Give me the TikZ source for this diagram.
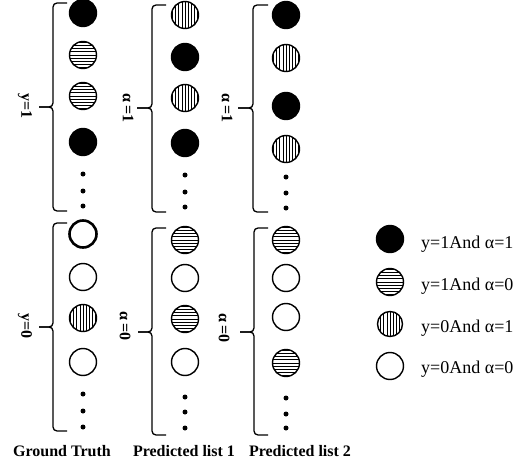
\documentclass[tikz,border=0pt]{standalone}
\usepackage{fontspec}
\setmainfont{Liberation Serif}
\begin{document}
\begin{tikzpicture}[x=1pt,y=-1pt,
  ball/.style={circle, draw=black, line width=1.4pt, minimum size=27pt, inner sep=0pt},
  cblk/.style={ball, fill=black},
  cwht/.style={ball},
  chor/.style={ball, path picture={\foreach \k in {-4,...,4} \draw[line width=0.7pt] ([yshift=\k*3.2pt]path picture bounding box.west) -- ([yshift=\k*3.2pt]path picture bounding box.east);}},
  cver/.style={ball, path picture={\foreach \k in {-4,...,4} \draw[line width=0.7pt] ([xshift=\k*3.1pt]path picture bounding box.north) -- ([xshift=\k*3.1pt]path picture bounding box.south);}},
  sdot/.style={circle, fill=black, minimum size=5pt, inner sep=0pt},
  bline/.style={line width=1.3pt, rounded corners=4pt},
  sidelab/.style={rotate=-90, font=\fontsize{16}{19}\selectfont\bfseries, inner sep=0pt},
  title/.style={font=\fontsize{16}{19}\selectfont\bfseries, inner sep=0pt},
  legtext/.style={anchor=west, font=\fontsize{18}{21}\selectfont, inner sep=0pt}]
\useasboundingbox (0,0) rectangle (515,466);

% ---------- column 1: Ground Truth ----------
\node[cblk] (c1a) at (83,13) {};
\node[chor] (c1b) at (83,55) {};
\node[chor] (c1c) at (83,96) {};
\node[cblk] (c1d) at (83,142) {};
\node[sdot] (d1a) at (83,174) {};
\node[sdot] (d1b) at (83,191) {};
\node[sdot] (d1c) at (83,206) {};
\node[cwht, line width=2.6pt] (c1e) at (83,234) {};
\node[cwht] (c1f) at (83,277) {};
\node[cver] (c1g) at (83,318) {};
\node[cwht] (c1h) at (83,362) {};
\node[sdot] (d1d) at (83,394) {};
\node[sdot] (d1e) at (83,411) {};
\node[sdot] (d1f) at (83,427) {};

% ---------- column 2 ----------
\node[cver] (c2a) at (185,15) {};
\node[cblk] (c2b) at (185,57) {};
\node[cver] (c2c) at (185,98) {};
\node[cblk] (c2d) at (185,143) {};
\node[sdot] (d2a) at (185,175) {};
\node[sdot] (d2b) at (185,192) {};
\node[sdot] (d2c) at (185,207) {};
\node[chor] (c2e) at (185,240) {};
\node[cwht] (c2f) at (185,278) {};
\node[chor] (c2g) at (185,319) {};
\node[cwht] (c2h) at (185,362) {};
\node[sdot] (d2d) at (185,397) {};
\node[sdot] (d2e) at (185,412) {};
\node[sdot] (d2f) at (185,428) {};

% ---------- column 3 ----------
\node[cblk] (c3a) at (286,15) {};
\node[cver] (c3b) at (286,58) {};
\node[cblk] (c3c) at (286,106) {};
\node[cver] (c3d) at (286,149) {};
\node[sdot] (d3a) at (286,177) {};
\node[sdot] (d3b) at (286,193) {};
\node[sdot] (d3c) at (286,208) {};
\node[chor] (c3e) at (286,240) {};
\node[cwht] (c3f) at (286,278) {};
\node[cwht] (c3g) at (286,317) {};
\node[chor] (c3h) at (286,363) {};
\node[sdot] (d3d) at (286,398) {};
\node[sdot] (d3e) at (286,414) {};
\node[sdot] (d3f) at (286,428) {};

% ---------- braces ----------
% col 1
\draw[bline] (67,3) -- (53,3) -- (53,107) -- (39,107);
\draw[bline] (39,107) -- (53,107) -- (53,211) -- (67,211);
\draw[bline] (67,223) -- (53,223) -- (53,327) -- (39,327);
\draw[bline] (39,327) -- (53,327) -- (53,431) -- (67,431);
% col 2
\draw[bline] (166,5) -- (152,5) -- (152,108) -- (137,108);
\draw[bline] (137,108) -- (152,108) -- (152,212) -- (166,212);
\draw[bline] (166,228) -- (152,228) -- (152,332) -- (138,332);
\draw[bline] (138,332) -- (152,332) -- (152,435) -- (166,435);
% col 3
\draw[bline] (268,5) -- (253,5) -- (253,108) -- (238,108);
\draw[bline] (238,108) -- (253,108) -- (253,212) -- (268,212);
\draw[bline] (268,228) -- (254,228) -- (254,332) -- (240,332);
\draw[bline] (240,332) -- (254,332) -- (254,435) -- (268,435);

% ---------- side labels ----------
\node[sidelab] (l1a) at (25,106) {y=1};
\node[sidelab] (l1b) at (25,326) {y=0};
\node[sidelab] (l2a) at (128,108) {α\,=1};
\node[sidelab] (l2b) at (125,326) {α\,=0};
\node[sidelab] (l3a) at (227,108) {α\,=1};
\node[sidelab] (l3b) at (224,328) {α\,=0};

% ---------- titles ----------
\node[title] (t1) at (62,451) {Ground Truth};
\node[title] (t2) at (184,451) {Predicted list 1};
\node[title] (t3) at (300,451) {Predicted list 2};

% ---------- legend ----------
\node[cblk] (g1) at (390,239) {};
\node[chor] (g2) at (390,282) {};
\node[cver, minimum size=25pt] (g3) at (390,324) {};
\node[cwht] (g4) at (390,366) {};
\node[legtext] (g1t) at (421,244) {y=1And α=1};
\node[legtext] (g2t) at (421,286) {y=1And α=0};
\node[legtext] (g3t) at (421,328) {y=0And α=1};
\node[legtext] (g4t) at (421,369) {y=0And α=0};
\end{tikzpicture}
\end{document}
